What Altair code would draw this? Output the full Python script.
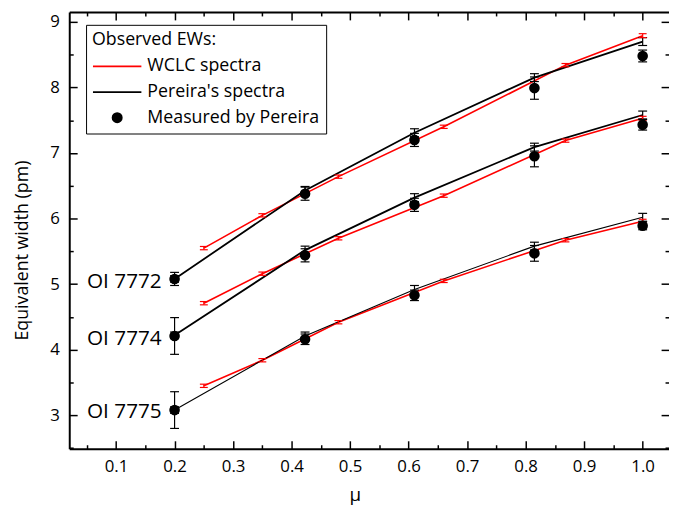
import altair as alt
import pandas as pd

# ---------------- data ----------------
lines = ["OI 7772", "OI 7774", "OI 7775"]

mu_wclc = [0.25, 0.35, 0.48, 0.66, 0.868, 1.0]
wclc_7772 = [5.55, 6.05, 6.64, 7.40, 8.34, 8.79]
wclc_7774 = [4.71, 5.16, 5.70, 6.35, 7.19, 7.53]
wclc_7775 = [3.45, 3.84, 4.42, 5.05, 5.67, 5.96]
wclc_err = [0.025, 0.025, 0.025, 0.025, 0.025, 0.03]

mu_obs = [0.2, 0.423, 0.61, 0.815, 1.0]
pereira_7772 = [5.08, 6.43, 7.31, 8.15, 8.70]
pereira_7774 = [4.22, 5.52, 6.32, 7.09, 7.58]
pereira_7775 = [3.08, 4.21, 4.92, 5.58, 6.02]
pereira_err = [0.05, 0.06, 0.06, 0.06, 0.06]

meas_7772 = [5.08, 6.38, 7.20, 7.99, 8.48]
meas_7772_err = [0.10, 0.10, 0.10, 0.17, 0.09]
meas_7774 = [4.21, 5.44, 6.21, 6.95, 7.43]
meas_7774_err = [0.28, 0.10, 0.10, 0.16, 0.08]
meas_7775 = [3.08, 4.16, 4.83, 5.47, 5.89]
meas_7775_err = [0.28, 0.08, 0.08, 0.12, 0.06]

series_names = ["WCLC spectra", "Pereira's spectra", "Measured by Pereira"]
legend_title = "Observed EWs:"

label_mu = [0.178, 0.178, 0.178]
label_ew = [5.03, 4.17, 3.05]

x_major = [0.1, 0.2, 0.3, 0.4, 0.5, 0.6, 0.7, 0.8, 0.9, 1.0]
x_minor = [0.05, 0.15, 0.25, 0.35, 0.45, 0.55, 0.65, 0.75, 0.85, 0.95]
y_major = [3, 4, 5, 6, 7, 8, 9]
y_minor = [2.5, 3.5, 4.5, 5.5, 6.5, 7.5, 8.5]

x_title = "μ"
y_title = "Equivalent width (pm)"

# ---------------- tables ----------------
def build(mu, vals_by_line, errs_by_line, series):
    rows = []
    for line, vals, errs in zip(lines, vals_by_line, errs_by_line):
        for m, v, e in zip(mu, vals, errs):
            rows.append(dict(mu=m, ew=v, lo=v - e, hi=v + e, line=line, series=series))
    return pd.DataFrame(rows)


def caps(df):
    a = df[["mu", "line", "lo"]].rename(columns={"lo": "cap"})
    b = df[["mu", "line", "hi"]].rename(columns={"hi": "cap"})
    return pd.concat([a, b], ignore_index=True)


df_red = build(mu_wclc, [wclc_7772, wclc_7774, wclc_7775], [wclc_err] * 3, series_names[0])
df_blk = build(mu_obs, [pereira_7772, pereira_7774, pereira_7775], [pereira_err] * 3, series_names[1])
df_meas = build(mu_obs, [meas_7772, meas_7774, meas_7775],
                [meas_7772_err, meas_7774_err, meas_7775_err], series_names[2])
df_labels = pd.DataFrame({"mu": label_mu, "ew": label_ew, "label": lines})
df_legend = pd.DataFrame({"series": pd.Series([], dtype=str),
                          "mu": pd.Series([], dtype=float),
                          "ew": pd.Series([], dtype=float)})

# ---------------- layout ----------------
W, H = 607, 442
FONT = "Open Sans"
RED = "#ff0000"
BLK = "#000000"

xscale = alt.Scale(domain=[0.02, 1.045], nice=False, zero=False)
yscale = alt.Scale(domain=[2.491, 9.151], nice=False, zero=False)


def X(field="mu", axis=None):
    return alt.X(f"{field}:Q", scale=xscale, axis=axis)


def Y(field="ew", axis=None):
    return alt.Y(f"{field}:Q", scale=yscale, axis=axis)


main_x_axis = alt.Axis(orient="bottom", values=x_major, format=".1f", ticks=False, tickSize=0,
                       labelPadding=10, domainWidth=2, title=x_title, titlePadding=11,
                       titleFontSize=19, titleX=289, grid=False)
main_y_axis = alt.Axis(orient="left", values=y_major, format="d", ticks=False, tickSize=0,
                       labelPadding=10, domainWidth=2, title=y_title, titlePadding=19,
                       titleFontSize=18, titleY=241, grid=False)


def tick_axis(orient, values, size, offset, domain=False):
    return alt.Axis(orient=orient, values=values, tickSize=size, tickWidth=1.5,
                    labels=False, domain=domain, domainWidth=2, title=None,
                    offset=offset, grid=False)


# main lines (carry the labelled axes)
red_line = alt.Chart(df_red).mark_line(color=RED, strokeWidth=1.6).encode(
    x=X(axis=main_x_axis), y=Y(axis=main_y_axis), detail="line:N")
red_rule = alt.Chart(df_red).mark_rule(color=RED, strokeWidth=1.2).encode(
    x=X(), y=Y("lo"), y2="hi:Q")
red_cap = alt.Chart(caps(df_red)).mark_tick(color=RED, orient="horizontal", size=8,
                                            thickness=1.2, opacity=1).encode(x=X(), y=Y("cap"))

blk_thick = alt.Chart(df_blk).transform_filter(
    alt.datum.line != lines[2]).mark_line(color=BLK, strokeWidth=1.8).encode(
    x=X(), y=Y(), detail="line:N")
blk_thin = alt.Chart(df_blk).transform_filter(
    alt.datum.line == lines[2]).mark_line(color=BLK, strokeWidth=1.1).encode(
    x=X(), y=Y(), detail="line:N")
blk_rule = alt.Chart(df_blk).mark_rule(color=BLK, strokeWidth=1.2).encode(
    x=X(), y=Y("lo"), y2="hi:Q")
blk_cap = alt.Chart(caps(df_blk)).mark_tick(color=BLK, orient="horizontal", size=9,
                                            thickness=1.2, opacity=1).encode(x=X(), y=Y("cap"))

meas_rule = alt.Chart(df_meas).mark_rule(color=BLK, strokeWidth=1.2).encode(
    x=X(), y=Y("lo"), y2="hi:Q")
meas_cap = alt.Chart(caps(df_meas)).mark_tick(color=BLK, orient="horizontal", size=9,
                                              thickness=1.2, opacity=1).encode(x=X(), y=Y("cap"))
meas_pts = alt.Chart(df_meas).mark_circle(color=BLK, size=115, opacity=1).encode(x=X(), y=Y())

texts = alt.Chart(df_labels).mark_text(align="right", baseline="middle", font=FONT,
                                       fontSize=21, color=BLK).encode(
    x=X(), y=Y(), text="label:N")

# legend
line_path = "M-1,0L1,0"
dot_path = "M-0.19,0A0.19,0.19,0,1,0,0.19,0A0.19,0.19,0,1,0,-0.19,0Z"
leg = alt.Legend(title=legend_title, orient="none", legendX=17, legendY=13, direction="vertical",
                 symbolSize=2401, clipHeight=20, rowPadding=6, labelOffset=5, padding=6,
                 strokeColor=BLK, fillColor="white", cornerRadius=0,
                 titleFont=FONT, titleFontSize=18, titleFontWeight="normal", titleColor=BLK,
                 titlePadding=8, titleLimit=400, labelFont=FONT, labelFontSize=18,
                 labelColor=BLK, labelLimit=400,
                 symbolStrokeWidth=1.8, symbolOpacity=1)
legend_layer = alt.Chart(df_legend).mark_point(filled=False, fill=BLK, opacity=1,
                                               strokeWidth=1.8).encode(
    x=X(), y=Y(),
    color=alt.Color("series:N", scale=alt.Scale(domain=series_names, range=[RED, BLK, BLK]),
                    legend=leg),
    shape=alt.Shape("series:N", scale=alt.Scale(domain=series_names,
                                                range=[line_path, line_path, dot_path]),
                    legend=leg),
)

# inward tick axes (frame)
def axis_layer(xa, ya):
    return alt.Chart(df_legend).mark_point(opacity=0).encode(x=X(axis=xa), y=Y(axis=ya))

ax1 = axis_layer(tick_axis("top", x_major, 8, -H), tick_axis("right", y_major, 8, -W))
ax2 = axis_layer(tick_axis("top", x_minor, 4, -H), tick_axis("right", y_minor, 4, -W))
ax3 = axis_layer(tick_axis("bottom", x_major, 8, -H, domain=True),
                 tick_axis("left", y_major, 8, -W))
ax4 = axis_layer(tick_axis("bottom", x_minor, 4, -H), tick_axis("left", y_minor, 4, -W))

chart = alt.layer(
    red_line, ax1, ax2, ax3, ax4,
    blk_thick, blk_thin, blk_rule, blk_cap,
    red_rule, red_cap,
    meas_rule, meas_cap, meas_pts, texts, legend_layer,
).resolve_axis(x="independent", y="independent").properties(
    width=W, height=H,
    autosize=alt.AutoSizeParams(type="none"),
    padding={"left": 62, "top": 1, "right": 0, "bottom": 58},
).configure_view(stroke=None).configure_axis(
    labelFont=FONT, labelFontSize=17, labelColor=BLK,
    titleFont=FONT, titleFontSize=18, titleFontWeight="normal", titleColor=BLK,
    domainColor=BLK, tickColor=BLK,
)

chart.save("out.html", embed_options={"renderer": "svg", "actions": False})
